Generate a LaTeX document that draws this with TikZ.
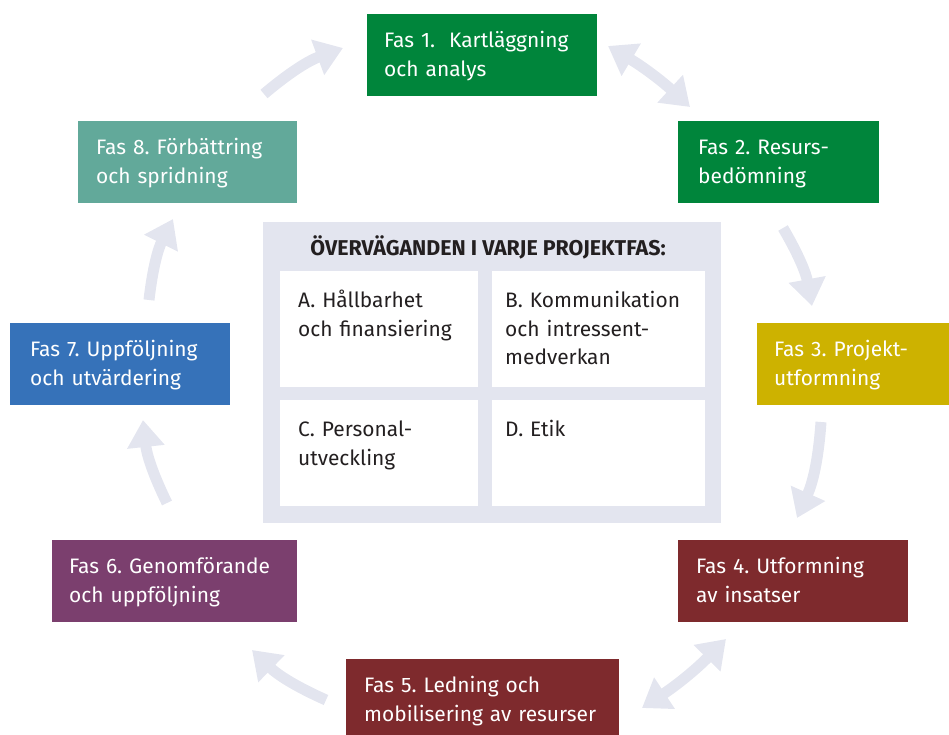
\documentclass[tikz,border=0pt]{standalone}
\usepackage{fontspec}
\setmainfont{Fira Sans}
\usetikzlibrary{arrows.meta}
\frenchspacing
\definecolor{cgreen}{HTML}{00853B}
\definecolor{cyellow}{HTML}{CDB200}
\definecolor{cred}{HTML}{7E2A2D}
\definecolor{cpurple}{HTML}{7B3F6E}
\definecolor{cblue}{HTML}{3672B9}
\definecolor{cteal}{HTML}{62A99A}
\definecolor{cpanel}{HTML}{E3E5EF}
\definecolor{ctext}{HTML}{231F20}
\tikzset{
  fas/.style={anchor=north west, inner xsep=17bp, inner ysep=0pt, align=left,
    text=white, font=\fontsize{21}{29}\selectfont, text height=33bp, text depth=49bp},
  cell/.style={anchor=north west, fill=white, inner xsep=18bp, inner ysep=0pt, align=left,
    text=ctext, font=\fontsize{21}{29}\selectfont, text height=36bp},
  flow/.style={draw=cpanel, line width=11bp, -{Triangle[length=27bp,width=36bp]}},
  flow2/.style={draw=cpanel, line width=11bp, {Triangle[length=27bp,width=36bp]}-{Triangle[length=27bp,width=36bp]}}
}
\begin{document}
\begin{tikzpicture}[x=1bp,y=-1bp]
\useasboundingbox (0,0) rectangle (949,735);
% phase boxes
\node[fas, fill=cgreen, minimum width=230bp, text width=196bp] (f1) at (367,14) {Fas 1.\ \ Kartläggning\\och analys};
\node[fas, fill=cgreen, minimum width=201bp, inner xsep=20bp, text width=161bp] (f2) at (678,121) {Fas 2. Resurs-\\bedömning};
\node[fas, fill=cyellow, minimum width=192bp, text width=158bp] (f3) at (757,323) {Fas 3. Projekt-\\utformning};
\node[fas, fill=cred, minimum width=230bp, text width=194bp, inner xsep=18bp] (f4) at (678,540) {Fas 4. Utformning\\av insatser};
\node[fas, fill=cred, minimum width=273bp, text width=237bp, inner xsep=18bp, text depth=43bp] (f5) at (346,659) {Fas 5. Ledning och\\mobilisering av resurser};
\node[fas, fill=cpurple, minimum width=245bp, text width=211bp] (f6) at (52,540) {Fas 6. Genomförande\\och uppföljning};
\node[fas, fill=cblue, minimum width=220bp, text width=180bp, inner xsep=20bp] (f7) at (10,323) {Fas 7. Uppföljning\\och utvärdering};
\node[fas, fill=cteal, minimum width=219bp, text width=183bp, inner xsep=18bp] (f8) at (78,121) {Fas 8. Förbättring\\och spridning};
% central panel
\node[anchor=north west, fill=cpanel, minimum width=458bp, minimum height=301bp, inner sep=0pt] (panel) at (263,222) {};
\node[anchor=base, text=ctext, font=\fontsize{21.5}{24}\selectfont\bfseries] (title) at (488,255) {ÖVERVÄGANDEN I VARJE PROJEKTFAS:};
\node[cell, minimum width=198bp, text width=162bp, text depth=80bp] (ca) at (280,271) {A. Hållbarhet\\och finansiering};
\node[cell, minimum width=213bp, inner xsep=13bp, text width=187bp, text depth=80bp] (cb) at (492,271) {B. Kommunikation\\och intressent-\\medverkan};
\node[cell, minimum width=198bp, text width=162bp, text depth=70bp] (cc) at (280,400) {C. Personal-\\utveckling};
\node[cell, minimum width=213bp, inner xsep=13bp, text width=187bp, text depth=70bp] (cd) at (492,400) {D. Etik};
% arrow end points
\coordinate (a81s) at (264,94);  \coordinate (a81e) at (343,48);
\coordinate (a12s) at (608,46);  \coordinate (a12e) at (690,107);
\coordinate (a23s) at (783,228); \coordinate (a23e) at (812,306);
\coordinate (a34s) at (821,422); \coordinate (a34e) at (797,518);
\coordinate (a45s) at (726,639); \coordinate (a45e) at (642,708);
\coordinate (a56s) at (326,700); \coordinate (a56e) at (252,650);
\coordinate (a67s) at (167,503); \coordinate (a67e) at (143,420);
\coordinate (a78s) at (149,300); \coordinate (a78e) at (173,219);
% arrows
\draw[flow] (a81s) to[bend left=10] (a81e);
\draw[flow2] (a12s) to[bend left=6] (a12e);
\draw[flow] (a23s) to[bend left=10] (a23e);
\draw[flow] (a34s) to[bend left=10] (a34e);
\draw[flow2] (a45s) to[bend left=6] (a45e);
\draw[flow] (a56s) to[bend left=10] (a56e);
\draw[flow] (a67s) to[bend left=10] (a67e);
\draw[flow] (a78s) to[bend left=10] (a78e);
\end{tikzpicture}
\end{document}
